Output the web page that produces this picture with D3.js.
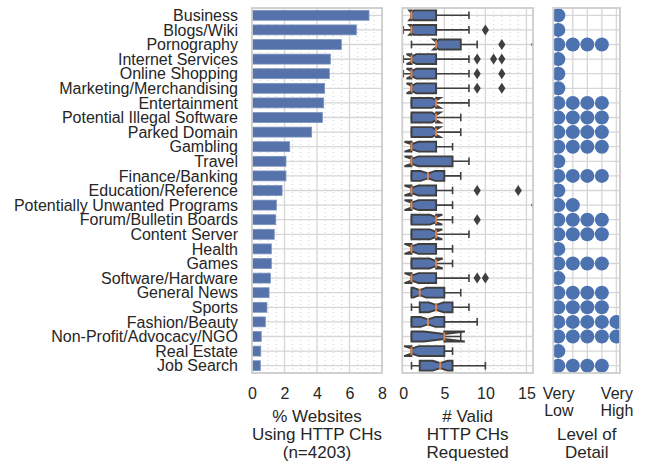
<!DOCTYPE html>
<html>
<head>
<meta charset="utf-8">
<script src="https://cdn.jsdelivr.net/npm/d3@7"></script>
<style>
  body { margin: 0; background: #fff; }
  text { font-family: "Liberation Sans", Arial, sans-serif; fill: #262626; }
</style>
</head>
<body>
<svg id="chart" width="645" height="464"></svg>
<script>
const categories = ["Business", "Blogs/Wiki", "Pornography", "Internet Services", "Online Shopping",
  "Marketing/Merchandising", "Entertainment", "Potential Illegal Software", "Parked Domain", "Gambling",
  "Travel", "Finance/Banking", "Education/Reference", "Potentially Unwanted Programs",
  "Forum/Bulletin Boards", "Content Server", "Health", "Games", "Software/Hardware", "General News",
  "Sports", "Fashion/Beauty", "Non-Profit/Advocacy/NGO", "Real Estate", "Job Search"];

// % of websites using HTTP client hints
const pctSites = [7.2, 6.42, 5.5, 4.82, 4.76, 4.47, 4.41, 4.33, 3.67, 2.32, 2.09, 2.09, 1.85,
  1.5, 1.46, 1.37, 1.19, 1.19, 1.13, 1.05, 0.92, 0.82, 0.57, 0.54, 0.51];

// # valid HTTP CHs requested (box stats)
const boxQ1 = [1, 1, 4, 1, 1, 1, 1, 1, 1, 1, 1, 1, 1, 1, 1, 1, 1, 1, 1, 1, 2, 1, 1, 1, 2];
const boxMed = [1, 1, 4, 1, 1, 1, 4, 4, 4, 1, 1, 3, 1, 1, 4, 4, 1, 4, 1, 2, 4, 3, 5, 1, 4.5];
const boxQ3 = [4, 4, 7, 4, 4, 4, 4, 4, 4, 4, 6, 5, 4, 4, 4, 4, 4, 4, 4, 5, 6, 5, 5, 5, 6];
const notchHalf = [0.27, 0.27, 0.35, 0.6, 0.6, 0.6, 0.5, 0.5, 0.5, 0.85, 0.85, 0.9, 0.85,
  0.85, 0.75, 0.75, 0.85, 0.8, 0.85, 0.8, 0.9, 0.9, 2.5, 0.9, 0.9];
const whiskLo = [1, 0, 1, 0, 0, 1, 1, 1, 1, 1, 1, 1, 1, 1, 1, 1, 1, 1, 1, 1, 1, 1, 1, 1, 1];
const whiskHi = [8, 8, 9, 8, 8, 8, 8, 7, 7, 6, 8, 7, 6, 6, 6, 8, 6, 6, 8, 7, 8, 9, 7, 6, 10];
const outliers = [[], [10], [12, 16], [9, 11, 12], [9, 12], [9, 12], [], [], [], [], [], [],
  [9, 14], [16], [9], [], [], [], [9, 10], [], [], [], [], [], []];

// level of detail (1 = very low ... 5 = very high)
const detailLevel = [1, 1, 4, 1, 1, 1, 4, 4, 4, 4, 1, 4, 1, 2, 4, 4, 1, 4, 1, 4, 4, 5, 5, 1, 4];

const pctTicks = [0, 2, 4, 6, 8];
const countTicks = [0, 5, 10, 15];
const detailTicks = [1, 5];
const detailTickLabels = [["Very", "Low"], ["Very", "High"]];

const svg = d3.select("#chart");
const plotTop = 8, plotBottom = 373;
const gridCol = "#d6d6d6", minorCol = "#c4c4c4", edgeCol = "#3f3f3f";
const fontSize = 16;

let y = d3.scaleBand().domain(categories).range([plotTop, plotBottom]);
let bw = y.bandwidth();
let yc = c => y(c) + bw / 2;

let x1 = d3.scaleLinear().domain([0, 8]).range([252, 382]);
let x2 = d3.scaleLinear().domain([-0.12, 15.8]).range([402.3, 533]);
let x3 = d3.scaleLinear().domain([0.655, 5.25]).range([553.3, 620]);

function panel(id, x, majors, minors) {
  let [a, b] = x.range();
  svg.append("clipPath").attr("id", id)
    .append("rect").attr("x", a).attr("y", plotTop).attr("width", b - a).attr("height", plotBottom - plotTop);
  let g = svg.append("g");
  g.selectAll(".minor").data(minors).join("line")
    .attr("x1", d => x(d)).attr("x2", d => x(d)).attr("y1", plotTop).attr("y2", plotBottom)
    .attr("stroke", minorCol).attr("stroke-width", 0.8).attr("stroke-dasharray", "1,3");
  g.selectAll(".hgrid").data(categories).join("line")
    .attr("x1", a).attr("x2", b).attr("y1", yc).attr("y2", yc)
    .attr("stroke", gridCol).attr("stroke-width", 1.3);
  g.selectAll(".major").data(majors).join("line")
    .attr("x1", d => x(d)).attr("x2", d => x(d)).attr("y1", plotTop).attr("y2", plotBottom)
    .attr("stroke", gridCol).attr("stroke-width", 1.3);
  let marks = svg.append("g").attr("clip-path", `url(#${id})`);
  return marks;
}

function border(x) {
  let [a, b] = x.range();
  svg.append("rect").attr("x", a).attr("y", plotTop).attr("width", b - a).attr("height", plotBottom - plotTop)
    .attr("fill", "none").attr("stroke", "#cdcdcd").attr("stroke-width", 1.8);
}

function axis(x, ticks) {
  let g = svg.append("g").attr("transform", `translate(0,${plotBottom})`)
    .call(d3.axisBottom(x).tickValues(ticks).tickSize(0).tickPadding(15));
  g.select(".domain").remove();
  g.selectAll("text").attr("font-size", fontSize).attr("fill", "#262626")
    .style("font-family", '"Liberation Sans", Arial, sans-serif');
  return g;
}

function title(cx, lines, y0) {
  let t = svg.append("text").attr("text-anchor", "middle").attr("font-size", 17);
  lines.forEach((l, i) => t.append("tspan").attr("x", cx).attr("y", y0 + i * 18).text(l));
}

// ---- panel 1: bars
let m1 = panel("c1", x1, [2, 4, 6], d3.range(0.5, 8, 0.5).filter(d => d % 2 !== 0));
m1.selectAll("rect").data(categories).join("rect")
  .attr("x", x1(0)).attr("y", c => yc(c) - bw * 0.34)
  .attr("width", (c, i) => x1(pctSites[i]) - x1(0)).attr("height", bw * 0.68)
  .attr("fill", "#5572aa").attr("stroke", "#7d93c0").attr("stroke-width", 0.8);
border(x1);
axis(x1, pctTicks);

// ---- panel 2: notched boxes
let m2 = panel("c2", x2, [5, 10, 15], d3.range(1, 16).filter(d => d % 5 !== 0));
let hh = bw * 0.34;
categories.forEach((c, i) => {
  let cy = yc(c);
  let g = m2.append("g");
  // whiskers
  [[whiskLo[i], boxQ1[i]], [boxQ3[i], whiskHi[i]]].forEach(([p, q]) => {
    g.append("line").attr("x1", x2(p)).attr("x2", x2(q)).attr("y1", cy).attr("y2", cy)
      .attr("stroke", edgeCol).attr("stroke-width", 1.6);
  });
  [whiskLo[i], whiskHi[i]].forEach(v => {
    g.append("line").attr("x1", x2(v)).attr("x2", x2(v)).attr("y1", cy - 3.8).attr("y2", cy + 3.8)
      .attr("stroke", edgeCol).attr("stroke-width", 1.6);
  });
  let lo = boxMed[i] - notchHalf[i], hi = boxMed[i] + notchHalf[i];
  let vals = [boxQ1[i], boxQ1[i], lo, boxMed[i], hi, boxQ3[i], boxQ3[i], hi, boxMed[i], lo];
  let offs = [-hh, hh, hh, hh / 2, hh, hh, -hh, -hh, -hh / 2, -hh];
  let pts = vals.map((v, k) => [x2(v), cy + offs[k]]);
  g.append("path").attr("d", d3.line()(pts) + "Z")
    .attr("fill", "#5572aa").attr("stroke", edgeCol).attr("stroke-width", 1.9)
    .attr("stroke-linejoin", "miter");
  g.append("line").attr("x1", x2(boxMed[i])).attr("x2", x2(boxMed[i]))
    .attr("y1", cy - hh + 1).attr("y2", cy + hh - 1)
    .attr("stroke", "#dd8452").attr("stroke-width", 2);
  g.selectAll(".out").data(outliers[i]).join("path")
    .attr("d", d => `M${x2(d)},${cy - 5.5}L${x2(d) + 3.6},${cy}L${x2(d)},${cy + 5.5}L${x2(d) - 3.6},${cy}Z`)
    .attr("fill", edgeCol);
});
border(x2);
axis(x2, countTicks);

// ---- panel 3: level of detail dots
let m3 = panel("c3", x3, [1, 2, 3, 4, 5], []);
categories.forEach((c, i) => {
  m3.selectAll(null).data(d3.range(1, detailLevel[i] + 1)).join("circle")
    .attr("cx", d => x3(d)).attr("cy", yc(c)).attr("r", 7).attr("fill", "#4c72b0");
});
border(x3);
let ax3 = axis(x3, detailTicks);
ax3.selectAll(".tick text").each(function (d, i) {
  let t = d3.select(this).text(null);
  detailTickLabels[i].forEach((l, k) => t.append("tspan").attr("x", 0).attr("dy", k === 0 ? "0.71em" : "1.05em").text(l));
});

// ---- category labels
svg.append("g").selectAll("text").data(categories).join("text")
  .attr("x", 238).attr("y", yc).attr("dy", "0.36em")
  .attr("text-anchor", "end").attr("font-size", fontSize).text(d => d);

// ---- axis titles
title(317, ["% Websites", "Using HTTP CHs", "(n=4203)"], 421.5);
title(467.7, ["# Valid", "HTTP CHs", "Requested"], 421.5);
title(586.7, ["Level of", "Detail"], 439.5);
</script>
</body>
</html>
